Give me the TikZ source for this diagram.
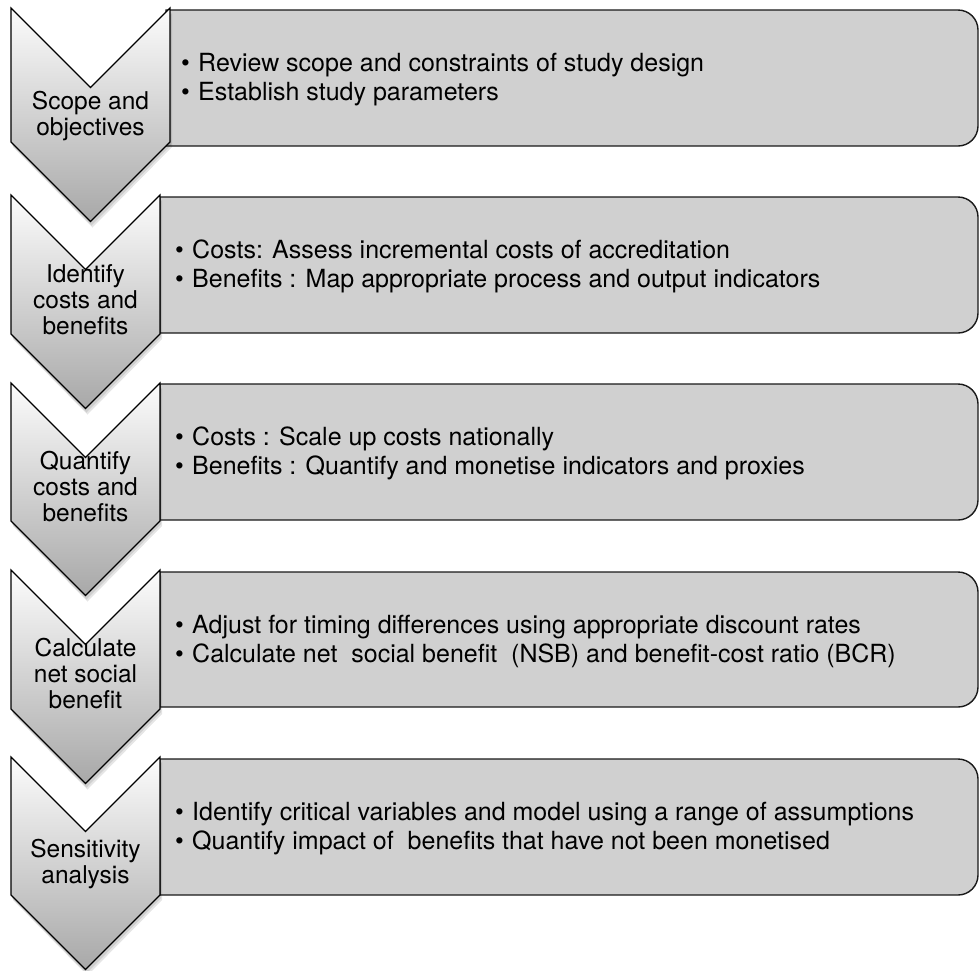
\documentclass[tikz,border=0pt]{standalone}
\usepackage{fontspec}
\setmainfont{TeX Gyre Heros}
\definecolor{boxfill}{RGB}{208,208,208}
\definecolor{chevtop}{RGB}{252,252,252}
\definecolor{chevbot}{RGB}{168,168,168}
\tikzset{
  boxstyle/.style={draw=black!90, line width=1.4pt, fill=boxfill},
  chevstyle/.style={draw=black, line width=1.1pt, top color=chevtop, bottom color=chevbot},
  chevshadow/.style={fill=black, opacity=0.10},
  chevtext/.style={inner sep=0pt, align=center, font=\fontsize{24.5}{26}\selectfont},
  boxtext/.style={inner sep=0pt, align=left, anchor=west, font=\fontsize{25}{29}\selectfont},
}
\newcommand{\bul}{\makebox[17pt][l]{\textbullet}}
% name, xl, xr, top, sidebottom, text-centre y, text
\newcommand{\chev}[7]{%
  \fill[chevshadow] ({#2+1},{#4+3}) -- ({(#2+#3)/2+1},{#4+(#3-#2)/2+3}) -- ({#3+1},{#4+3}) -- ({#3+1},{#5+3}) -- ({(#2+#3)/2+1},{#5+(#3-#2)/2+4}) -- ({#2+1},{#5+3}) -- cycle;
  \fill[chevshadow] ({#2+2},{#4+5}) -- ({(#2+#3)/2+2},{#4+(#3-#2)/2+5}) -- ({#3+2},{#4+5}) -- ({#3+2},{#5+5}) -- ({(#2+#3)/2+2},{#5+(#3-#2)/2+6}) -- ({#2+2},{#5+5}) -- cycle;
  \path[chevstyle] (#2,#4) -- ({(#2+#3)/2},{#4+(#3-#2)/2}) -- (#3,#4) -- (#3,#5) -- ({(#2+#3)/2},{#5+(#3-#2)/2}) -- (#2,#5) -- cycle;
  \node[chevtext] (#1) at ({(#2+#3)/2},#6) {#7};
}
% name, xl, top, bottom, text
\newcommand{\stepbox}[5]{%
  \path[boxstyle] (#2,#3) [rounded corners=20pt] -- (978,#3) -- (978,#4) [sharp corners] -- (#2,#4) -- cycle;
  \node[boxtext] (#1) at ({#2+15},{(#3+#4)/2+1.5}) {#5};
}
\begin{document}
\begin{tikzpicture}[x=1pt,y=-1pt]
\useasboundingbox (0,0) rectangle (979,970);

\stepbox{b1}{166}{10}{146}{\bul Review scope and constraints of study design\\\bul Establish study parameters}
\chev{c1}{11}{170}{8}{142}{116}{Scope and\\objectives}

\stepbox{b2}{160}{197}{333}{\bul Costs: Assess incremental costs of accreditation\\\bul Benefits : Map appropriate process and output indicators}
\chev{c2}{11}{160}{195}{334}{300}{Identify\\costs and\\benefits}

\stepbox{b3}{160}{384}{520}{\bul Costs : Scale up costs nationally\\\bul Benefits : Quantify and monetise indicators and proxies}
\chev{c3}{11}{160}{383}{521}{487}{Quantify\\costs and\\benefits}

\stepbox{b4}{160}{572}{707}{\bul Adjust for timing differences using appropriate discount rates\\\bul Calculate net\ \ social benefit\ \ (NSB) and benefit-cost ratio (BCR)}
\chev{c4}{11}{160}{570}{709}{674}{Calculate\\net social\\benefit}

\stepbox{b5}{160}{759}{895}{\bul Identify critical variables and model using a range of assumptions\\\bul Quantify impact of\ \ benefits that have not been monetised}
\chev{c5}{11}{160}{757}{895}{864}{Sensitivity\\analysis}
\end{tikzpicture}
\end{document}
